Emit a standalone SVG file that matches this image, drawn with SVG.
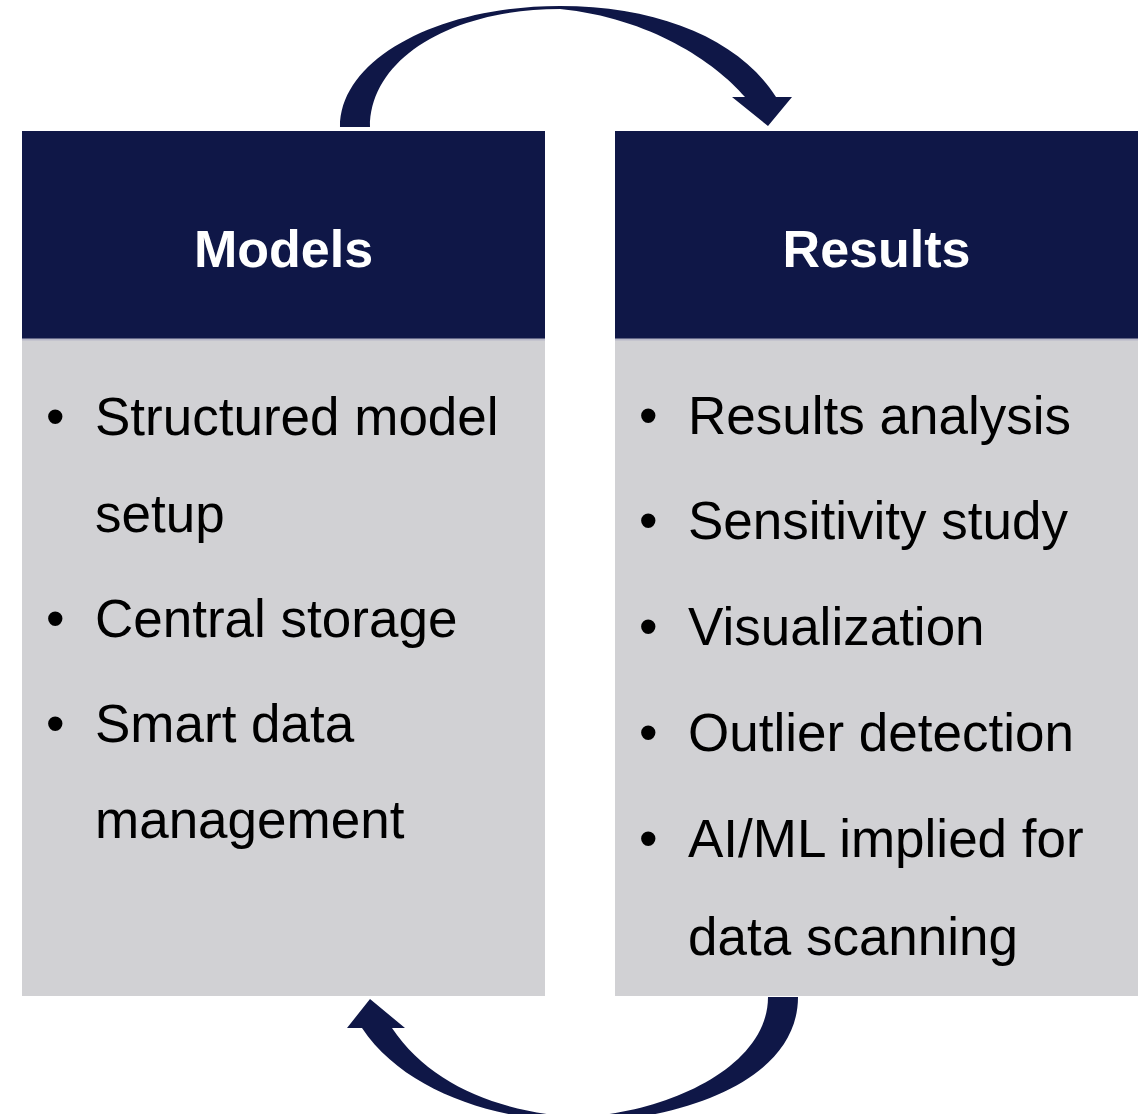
<svg xmlns="http://www.w3.org/2000/svg" width="1140" height="1114" viewBox="0 0 1140 1114">
<style>
.hdr{fill:#0F1747}
.body{fill:#D1D1D4}
.ht{font-family:"Liberation Sans",Arial,sans-serif;font-weight:bold;font-size:52px;fill:#FFFFFF;text-anchor:middle}
.bt{font-family:"Liberation Sans",Arial,sans-serif;font-size:53px;fill:#000000}
.arr{fill:#0F1747}
</style>
<rect width="1140" height="1114" fill="#FFFFFF"/>
<g id="connectors">
<path class="arr" d="M340,127 C340,58 440,6 560,6 C660,6 740,40 776,97 L792,97 L768,126 L732,97 L745,97 C715,62 650,18 560,9 C452,9 370,58 370,127 Z"/>
<path class="arr" d="M798,997 C798,1068 715,1110 610,1121 C520,1127 410,1100 362,1028 L347,1028 L370,999 L405,1028 L392,1028 C430,1085 500,1112 575,1117 C660,1115 768,1070 768,997 Z"/>
</g>
<g id="models">
<rect class="hdr" x="22" y="131" width="523" height="208"/>
<rect class="body" x="22" y="339" width="523" height="657"/>
<line x1="22" y1="339.5" x2="545" y2="339.5" stroke="#B8B8C8" stroke-width="2"/>
<text class="ht" x="283.5" y="267">Models</text>
<text class="bt" x="46" y="435">•</text>
<text class="bt" x="95" y="435">Structured model</text>
<text class="bt" x="95" y="532">setup</text>
<text class="bt" x="46" y="637">•</text>
<text class="bt" x="95" y="637">Central storage</text>
<text class="bt" x="46" y="742">•</text>
<text class="bt" x="95" y="742">Smart data</text>
<text class="bt" x="95" y="838">management</text>
</g>
<g id="results">
<rect class="hdr" x="615" y="131" width="523" height="208"/>
<rect class="body" x="615" y="339" width="523" height="657"/>
<line x1="615" y1="339.5" x2="1138" y2="339.5" stroke="#B8B8C8" stroke-width="2"/>
<text class="ht" x="876.5" y="267">Results</text>
<text class="bt" x="639" y="434">•</text>
<text class="bt" x="688" y="434">Results analysis</text>
<text class="bt" x="639" y="539">•</text>
<text class="bt" x="688" y="539">Sensitivity study</text>
<text class="bt" x="639" y="645">•</text>
<text class="bt" x="688" y="645">Visualization</text>
<text class="bt" x="639" y="751">•</text>
<text class="bt" x="688" y="751">Outlier detection</text>
<text class="bt" x="639" y="857">•</text>
<text class="bt" x="688" y="857">AI/ML implied for</text>
<text class="bt" x="688" y="955">data scanning</text>
</g>
</svg>
